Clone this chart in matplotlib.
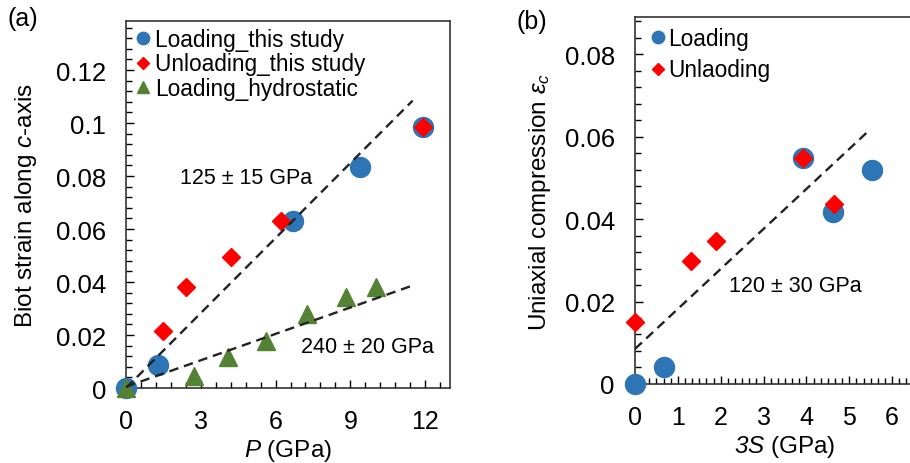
import numpy as np
import matplotlib
matplotlib.use("Agg")
import matplotlib.pyplot as plt
from matplotlib.ticker import MultipleLocator, FuncFormatter

plt.rcParams['font.family'] = ['Liberation Sans', 'DejaVu Sans']
plt.rcParams['mathtext.fontset'] = 'custom'
plt.rcParams['mathtext.rm'] = 'Liberation Sans'
plt.rcParams['mathtext.it'] = 'Liberation Sans:italic'
plt.rcParams['mathtext.cal'] = 'Liberation Sans:italic'

BLUE = "#2E75B6"
RED = "#FF0000"
GREEN = "#548235"

# --- panel (a): Biot strain vs pressure ---
load_P = [0.0, 1.3, 6.7, 9.4, 11.9]
load_eps = [0.0, 0.0087, 0.0631, 0.0833, 0.0986]
unload_P = [1.5, 2.4, 4.2, 6.2, 11.9]
unload_eps = [0.0216, 0.038, 0.0493, 0.0631, 0.0986]
hydro_P = [0.0, 2.74, 4.11, 5.61, 7.26, 8.84, 10.03]
hydro_eps = [0.0, 0.0046, 0.0116, 0.0179, 0.0279, 0.0342, 0.038]
# trend lines (slope, intercept, x range)
fit1 = (0.00943, 0.0, 0.0, 11.5)
fit2 = (0.00332, 0.0005, 0.0, 11.5)

# --- panel (b): uniaxial compression vs 3S ---
b_load_S = [0.0, 0.68, 3.91, 4.61, 5.54]
b_load_eps = [0.0, 0.0040, 0.0547, 0.0416, 0.0519]
b_unload_S = [0.0, 1.30, 1.88, 3.93, 4.64]
b_unload_eps = [0.0151, 0.0299, 0.0346, 0.0547, 0.0436]
fit3 = (0.0097, 0.0085, 0.0, 5.41)

fig = plt.figure(figsize=(9.1, 4.64), dpi=100)
ax1 = fig.add_axes([0.1385, 0.1616, 0.356, 0.791])
ax2 = fig.add_axes([0.6978, 0.1703, 0.3297, 0.791])

fmt = FuncFormatter(lambda v, p: f"{v:g}")

def style(ax):
    ax.tick_params(which="both", direction="in", top=False, right=False)
    ax.tick_params(axis="y", labelsize=18.5, pad=14.5)
    ax.tick_params(axis="x", labelsize=18, pad=15)
    ax.tick_params(which="major", length=6, width=1)
    ax.tick_params(which="minor", length=4, width=1)
    ax.yaxis.set_major_formatter(fmt)
    ax.xaxis.set_major_formatter(fmt)
    for s in ax.spines.values():
        s.set_linewidth(1.2)
        s.set_color("#333333")

def trend(ax, f):
    k, b, x0, x1 = f
    x = np.array([x0, x1])
    ax.plot(x, k * x + b, ls=(0, (4, 2.5)), color="#222222", lw=1.7, zorder=5)

# (a)
ax1.plot(load_P, load_eps, "o", ms=14.4, color=BLUE, label="Loading_this study", clip_on=False, zorder=3)
ax1.plot(unload_P, unload_eps, "D", ms=9.3, color=RED, label="Unloading_this study", clip_on=False, zorder=4)
ax1.plot(hydro_P, hydro_eps, "^", ms=13, color=GREEN, label="Loading_hydrostatic", clip_on=False, zorder=4)
trend(ax1, fit1)
trend(ax1, fit2)
ax1.text(4.8, 0.0796, "125 ± 15 GPa", fontsize=15.5, ha="center", va="center")
ax1.text(9.7, 0.0155, "240 ± 20 GPa", fontsize=15.5, ha="center", va="center")
ax1.set_xlim(0, 13)
ax1.set_xticks(range(0, 13, 3))
ax1.xaxis.set_minor_locator(MultipleLocator(0.6))
ax1.yaxis.set_major_locator(MultipleLocator(0.02))
ax1.yaxis.set_minor_locator(MultipleLocator(0.004))
style(ax1)
ax1.set_ylim(0, 0.1385)
ax1.set_ylabel("Biot strain along $c$-axis", fontsize=17.5, labelpad=12)
ax1.set_xlabel("$P$ (GPa)", fontsize=17.5, labelpad=3)
ax1.legend(loc="upper left", bbox_to_anchor=(0.025, 0.988), frameon=False,
           fontsize=16.3, markerscale=0.62, handlelength=0.6, handletextpad=0.22,
           labelspacing=0.08, borderaxespad=0, borderpad=0.1)

# (b)
ax2.plot(b_load_S, b_load_eps, "o", ms=14.4, color=BLUE, label="Loading", clip_on=False, zorder=3)
ax2.plot(b_unload_S, b_unload_eps, "D", ms=9.3, color=RED, label="Unlaoding", clip_on=False, zorder=4)
trend(ax2, fit3)
ax2.text(3.75, 0.0238, "120 ± 30 GPa", fontsize=15.5, ha="center", va="center")
ax2.set_xlim(0, 7)
ax2.set_xticks(range(0, 7))
ax2.xaxis.set_minor_locator(MultipleLocator(1 / 6))
ax2.yaxis.set_major_locator(MultipleLocator(0.02))
ax2.yaxis.set_minor_locator(MultipleLocator(0.004))
style(ax2)
ax2.set_ylim(0, 0.089)
ax2.set_ylabel(r"Uniaxial compression $\varepsilon_c$", fontsize=17.5, labelpad=8)
ax2.set_xlabel(r"$\mathcal{3S}$ (GPa)", fontsize=17.5, labelpad=3)
ax2.legend(loc="upper left", bbox_to_anchor=(0.047, 0.978), frameon=False,
           fontsize=16.3, markerscale=0.62, handlelength=0.6, handletextpad=0.15,
           labelspacing=0.36, borderaxespad=0, borderpad=0.1)

fig.text(0.008, 0.958, "(a)", fontsize=18, va="center")
fig.text(0.568, 0.952, "(b)", fontsize=18, va="center")

fig.savefig("out.png", dpi=100)
